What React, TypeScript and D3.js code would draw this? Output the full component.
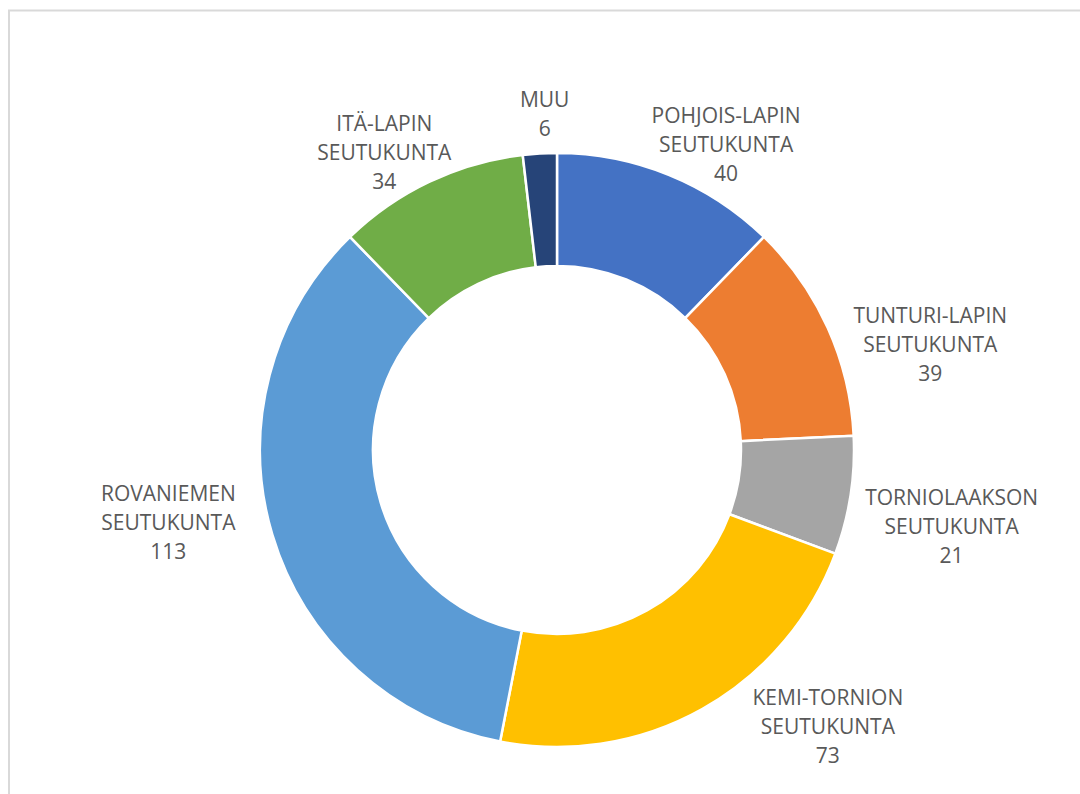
import * as d3 from "d3";

const NAMES = [
  ["POHJOIS-LAPIN", "SEUTUKUNTA"],
  ["TUNTURI-LAPIN", "SEUTUKUNTA"],
  ["TORNIOLAAKSON", "SEUTUKUNTA"],
  ["KEMI-TORNION", "SEUTUKUNTA"],
  ["ROVANIEMEN", "SEUTUKUNTA"],
  ["ITÄ-LAPIN", "SEUTUKUNTA"],
  ["MUU"],
];
const VALUES = [40, 39, 21, 73, 113, 34, 6];
const COLORS = ["#4472C4", "#ED7D31", "#A5A5A5", "#FFC000", "#5B9BD5", "#70AD47", "#264478"];

// label nudges from the label arc (Excel "best fit" placement)
const NUDGE: [number, number][] = [
  [30, 37],
  [36, 47],
  [29, 20],
  [90, -46],
  [-34, -33],
  [-14, 37],
  [9, 33],
];

const W = 1080;
const H = 794;
const cx = 557;
const cy = 450;
const outerR = 297;
const innerR = 184;
const labelR = 370;
const lineH = 29;

export default function App() {
  const pie = d3.pie<number>().sort(null).value((d) => d);
  const arcs = pie(VALUES);
  const arc = d3.arc<d3.PieArcDatum<number>>().innerRadius(innerR).outerRadius(outerR);
  const labelArc = d3.arc<d3.PieArcDatum<number>>().innerRadius(labelR).outerRadius(labelR);

  return (
    <div style={{ position: "absolute", left: 0, top: 0 }}>
      <svg width={W} height={H} style={{ display: "block" }}>
        <rect x={0} y={0} width={W} height={H} fill="#fff" />
        <rect x={9} y={10.5} width={1200} height={1000} fill="none" stroke="#d9d9d9" strokeWidth={2} />
        <g transform={`translate(${cx},${cy})`}>
          {arcs.map((a, i) => (
            <path key={i} d={arc(a) ?? ""} fill={COLORS[i]} stroke="#fff" strokeWidth={2.5} />
          ))}
          {arcs.map((a, i) => {
            const [lx, ly] = labelArc.centroid(a);
            const x = lx + NUDGE[i][0];
            const y = ly + NUDGE[i][1];
            const lines = [...NAMES[i], String(VALUES[i])];
            const y0 = y - ((lines.length - 1) * lineH) / 2;
            return (
              <text
                key={i}
                x={x}
                textAnchor="middle"
                fill="#595959"
                style={{ fontFamily: "'Open Sans', sans-serif", fontSize: 21 }}
              >
                {lines.map((l, j) => (
                  <tspan key={j} x={x} y={y0 + j * lineH} dy="0.36em">
                    {l}
                  </tspan>
                ))}
              </text>
            );
          })}
        </g>
      </svg>
    </div>
  );
}
